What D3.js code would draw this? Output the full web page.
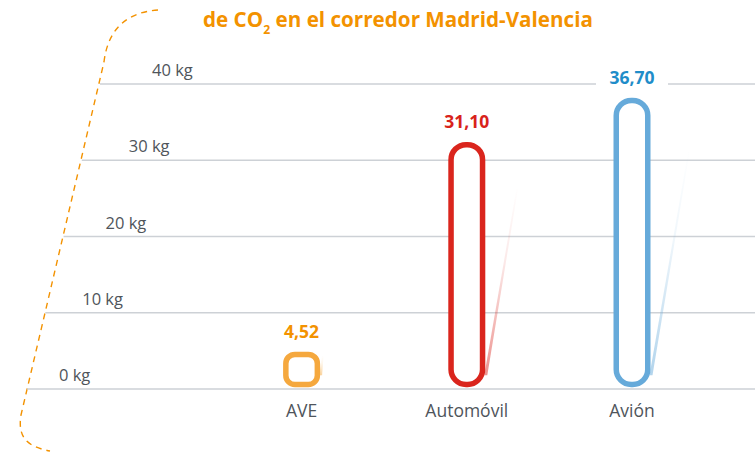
<!DOCTYPE html>
<html lang="es">
<head>
<meta charset="UTF-8">
<title>Emisiones de CO2 Madrid-Valencia</title>
<script src="https://d3js.org/d3.v7.min.js"></script>
<style>
  body { margin: 0; background: #fff; }
  svg { display: block; font-family: "Open Sans", sans-serif; }
</style>
</head>
<body>
<svg width="755" height="452"></svg>
<script>
// data
const categories = ["AVE", "Automóvil", "Avión"];
const values = [4.52, 31.10, 36.70];
const valueLabels = ["4,52", "31,10", "36,70"];
const ticks = [0, 10, 20, 30, 40];
const tickLabels = ["0 kg", "10 kg", "20 kg", "30 kg", "40 kg"];
const strokeColors = ["#F5A83E", "#DA251D", "#66AADA"];
const labelColors = ["#F39200", "#D8231B", "#1F8DC9"];

const svg = d3.select("svg");
const orange = "#F39200", grey = "#4F555B";

const x = d3.scalePoint().domain(categories).range([219, 714.6]).padding(0.5);
const y = d3.scaleLinear().domain([0, 40]).range([389, 84]);
// bars in the original sit slightly off the grid, so they get their own scale
const yBar = d3.scaleLinear().domain([0, 40]).range([387.3, 71.7]);

// left edge of the grid follows the slanted dashed frame
const gridLeft = yy => 100 - (yy - 84) * 0.239;
const labelLeft = yy => 152 - (yy - 84) * 0.305;

// title (cut off at the top in the original, only the second line shows)
const title = svg.append("text")
  .attr("x", 203).attr("y", 27)
  .attr("fill", orange).attr("font-weight", 700).attr("font-size", 22)
  .attr("textLength", 390).attr("lengthAdjust", "spacingAndGlyphs");
title.append("tspan").text("de CO");
title.append("tspan").attr("font-size", 13).attr("dy", 7).text("2");
title.append("tspan").attr("dy", -7).text(" en el corredor Madrid-Valencia");

// dashed frame
svg.append("path")
  .attr("d", "M158,10 C128,12 108,28 104,62 L21,415 C17,440 30,447 50,451")
  .attr("fill", "none").attr("stroke", orange)
  .attr("stroke-width", 1.4).attr("stroke-dasharray", "6,5");

// grid
svg.append("g").selectAll("line").data(ticks).join("line")
  .attr("x1", d => gridLeft(y(d))).attr("x2", 755)
  .attr("y1", d => y(d)).attr("y2", d => y(d))
  .attr("stroke", "#CDD1D6").attr("stroke-width", 1.5);

svg.append("g").selectAll("text").data(ticks).join("text")
  .attr("x", d => labelLeft(y(d)))
  .attr("y", d => y(d) - 8)
  .attr("fill", grey).attr("font-size", 16.5)
  .text((d, i) => tickLabels[i]);

// shadows
const defs = svg.append("defs");
categories.forEach((c, i) => {
  const g = defs.append("linearGradient").attr("id", "sh" + i)
    .attr("x1", 0).attr("y1", 1).attr("x2", 0).attr("y2", 0);
  g.append("stop").attr("offset", 0).attr("stop-color", strokeColors[i]).attr("stop-opacity", 0.5);
  g.append("stop").attr("offset", 0.6).attr("stop-color", strokeColors[i]).attr("stop-opacity", 0.1);
  g.append("stop").attr("offset", 1).attr("stop-color", strokeColors[i]).attr("stop-opacity", 0);
});

const barW = 37, sw = 5.5;
svg.append("g").selectAll("path").data(values).join("path")
  .attr("d", (d, i) => {
    const x0 = x(categories[i]) + barW / 2 - 1;
    const yb = yBar(0) - 12;
    const yt = yBar(d * 0.82);
    const rise = Math.max(yb - yt, 20);
    const xt = x0 + rise * 0.175;
    return `M${x0},${yb} L${xt - 0.5},${yb - rise} L${xt + 1},${yb - rise} L${x0 + 3},${yb} Z`;
  })
  .attr("fill", (d, i) => `url(#sh${i})`);

// bars
svg.append("g").selectAll("rect").data(values).join("rect")
  .attr("x", (d, i) => x(categories[i]) - barW / 2 + sw / 2)
  .attr("width", barW - sw)
  .attr("y", d => yBar(d) + sw / 2)
  .attr("height", d => yBar(0) - yBar(d) - sw)
  .attr("rx", d => Math.min(15, (yBar(0) - yBar(d) - sw) * 0.3))
  .attr("fill", "#fff")
  .attr("stroke", (d, i) => strokeColors[i])
  .attr("stroke-width", sw);

// value labels with white backing
const vl = svg.append("g").selectAll("g").data(values).join("g");
vl.append("rect")
  .attr("x", (d, i) => x(categories[i]) - 36)
  .attr("width", 72)
  .attr("y", d => yBar(d) - 33)
  .attr("height", 22)
  .attr("fill", "#fff");
vl.append("text")
  .attr("x", (d, i) => x(categories[i]))
  .attr("y", d => yBar(d) - 14)
  .attr("text-anchor", "middle")
  .attr("fill", (d, i) => labelColors[i])
  .attr("font-size", 17.5).attr("font-weight", 700)
  .text((d, i) => valueLabels[i]);

// category labels
svg.append("g").selectAll("text").data(categories).join("text")
  .attr("x", d => x(d)).attr("y", 417)
  .attr("text-anchor", "middle")
  .attr("fill", grey).attr("font-size", 17.5)
  .text(d => d);
</script>
</body>
</html>
